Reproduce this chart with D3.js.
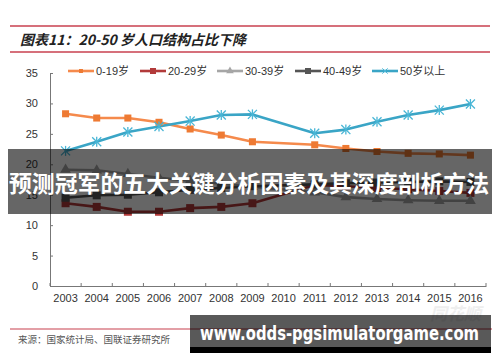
<!DOCTYPE html>
<html><head><meta charset="utf-8">
<script src="https://cdn.jsdelivr.net/npm/d3@7"></script>
<style>
html,body{margin:0;padding:0;background:#fff;}
svg{display:block;}
</style></head>
<body>
<svg id="c" width="500" height="362"></svg>
<script>
const years = ["2003","2004","2005","2006","2007","2008","2009","2010","2011","2012","2013","2014","2015","2016"];
const yTicks = [0,5,10,15,20,25,30,35];
const seriesNames = ["0-19岁","20-29岁","30-39岁","40-49岁","50岁以上"];
const s0_19  = [28.3,27.6,27.6,26.9,25.8,24.8,23.7,null,23.2,22.6,22.1,21.8,21.7,21.5];
const s20_29 = [13.6,13.0,12.2,12.2,12.8,13.0,13.6,null,16.6,16.4,16.1,15.9,15.6,15.3];
const s30_39 = [19.1,19.0,18.4,17.8,17.3,16.8,16.3,null,15.4,14.6,14.3,14.1,14.0,14.0];
const s40_49 = [14.5,14.9,15.0,15.4,15.8,16.1,16.4,null,16.7,16.9,17.0,17.1,17.2,17.1];
const s50p   = [22.2,23.7,25.3,26.2,27.1,28.1,28.2,null,25.1,25.7,27.0,28.1,28.9,29.9];
const title = "图表11：20-50 岁人口结构占比下降";
const source = "来源：国家统计局、国联证券研究所";
const bannerText = "预测冠军的五大关键分析因素及其深度剖析方法";
const urlText = "www.odds-pgsimulatorgame.com";

const colors = ["#F58A4C","#B23A3A","#A6A6A6","#555555","#3AA5C6"];
const markers = ["diamond","square","triangle","square","asterisk"];
const data = [s0_19,s20_29,s30_39,s40_49,s50p];

const svg = d3.select("#c");
const latin = "'Liberation Sans', Arial, 'Noto Sans CJK SC', sans-serif";
const cjk = "'Noto Sans CJK SC', sans-serif";

// header
svg.append("line").attr("x1",10).attr("x2",490).attr("y1",26).attr("y2",26).attr("stroke","#C8404F").attr("stroke-width",1.4);
svg.append("line").attr("x1",10).attr("x2",490).attr("y1",52).attr("y2",52).attr("stroke","#C8404F").attr("stroke-width",1.4);
svg.append("text").attr("x",20).attr("y",45).text(title)
  .attr("font-family",cjk).attr("font-weight","bold").attr("font-style","italic").attr("font-size",14).attr("fill","#222");

const x = d3.scaleBand().domain(years).range([50,486]).padding(0);
const y = d3.scaleLinear().domain([0,35]).range([286,73]);

// axes
const yAxis = d3.axisLeft(y).tickValues(yTicks).tickSizeInner(-3).tickSizeOuter(0).tickPadding(12);
const gy = svg.append("g").attr("transform","translate(50,0)").call(yAxis);
gy.select(".domain").attr("stroke","#777");
gy.selectAll(".tick line").attr("stroke","#777");
gy.selectAll("text").attr("font-family",latin).attr("font-size",11).attr("fill","#333");

const xAxis = d3.axisBottom(x).tickSize(0).tickPadding(8);
const gx = svg.append("g").attr("transform","translate(0,286)").call(xAxis);
gx.select(".domain").attr("stroke","#777");
gx.selectAll("text").attr("font-family",latin).attr("font-size",11).attr("fill","#333");
// tick marks at band boundaries
const bounds = years.map(d=>x(d)).concat([x(years[years.length-1])+x.bandwidth()]);
gx.selectAll(".bt").data(bounds).enter().append("line")
  .attr("x1",d=>d).attr("x2",d=>d).attr("y1",0).attr("y2",-3).attr("stroke","#777");

// lines
const cx = d => x(d.year)+x.bandwidth()/2;
data.forEach((arr,i)=>{
  const pts = years.map((yr,j)=>({year:yr,v:arr[j]})).filter(p=>p.v!==null);
  const line = d3.line().x(cx).y(p=>y(p.v));
  svg.append("path").datum(pts).attr("d",line).attr("fill","none")
    .attr("stroke",colors[i]).attr("stroke-width",2.6).attr("stroke-linejoin","round");
});
function drawMarker(g, type, col, px, py){
  if(type==="diamond"){
    g.append("path").attr("d",d3.symbol().type(d3.symbolDiamond2).size(70)()).attr("transform",`translate(${px},${py}) rotate(45) scale(0.95,0.95)`).attr("fill","#EE7A33");
  } else if(type==="square"){
    g.append("rect").attr("x",px-4).attr("y",py-4).attr("width",8).attr("height",8).attr("fill",col);
  } else if(type==="triangle"){
    g.append("path").attr("d",d3.symbol().type(d3.symbolTriangle).size(50)()).attr("transform",`translate(${px},${py})`).attr("fill",col);
  } else if(type==="asterisk"){
    g.append("path").attr("d",d3.symbol().type(d3.symbolTimes).size(55)()).attr("transform",`translate(${px},${py})`).attr("fill","none").attr("stroke","#49B6D6").attr("stroke-width",1.3);
    g.append("line").attr("x1",px).attr("x2",px).attr("y1",py-5).attr("y2",py+5).attr("stroke","#49B6D6").attr("stroke-width",1.3);
  }
}
data.forEach((arr,i)=>{
  const g = svg.append("g");
  years.forEach((yr,j)=>{ if(arr[j]!==null) drawMarker(g, markers[i], colors[i], cx({year:yr}), y(arr[j])); });
});

// legend
const legX = [68,140,217,295,372];
seriesNames.forEach((n,i)=>{
  const g = svg.append("g");
  g.append("line").attr("x1",legX[i]).attr("x2",legX[i]+26).attr("y1",71).attr("y2",71).attr("stroke",colors[i]).attr("stroke-width",2.6);
  const mk = markers[i];
  if(mk==="diamond") g.append("path").attr("d",d3.symbol().type(d3.symbolDiamond2).size(20)()).attr("transform",`translate(${legX[i]+13},71) rotate(45)`).attr("fill","#EE7A33");
  else if(mk==="square") g.append("rect").attr("x",legX[i]+10).attr("y",68).attr("width",6).attr("height",6).attr("fill",colors[i]);
  else if(mk==="triangle") g.append("path").attr("d",d3.symbol().type(d3.symbolTriangle).size(25)()).attr("transform",`translate(${legX[i]+13},71)`).attr("fill",colors[i]);
  else g.append("path").attr("d",d3.symbol().type(d3.symbolTimes).size(20)()).attr("transform",`translate(${legX[i]+13},71)`).attr("stroke","#49B6D6").attr("fill","none");
  g.append("text").attr("x",legX[i]+28).attr("y",75).text(n).attr("font-family",latin).attr("font-size",11).attr("fill","#333");
});

// watermark logo (faint)
svg.append("text").attr("x",430).attr("y",320).text("同花顺").attr("font-family",cjk).attr("font-weight","bold").attr("font-style","italic").attr("font-size",17).attr("fill","#eee");

// source
svg.append("line").attr("x1",10).attr("x2",492).attr("y1",329).attr("y2",329).attr("stroke","#C8404F").attr("stroke-width",1.2);
svg.append("text").attr("x",18).attr("y",343).text(source).attr("font-family",cjk).attr("font-size",9.5).attr("fill","#555");

// overlay banner
svg.append("rect").attr("x",8).attr("y",149).attr("width",484).attr("height",65).attr("fill","rgba(0,0,0,0.6)");
svg.append("text").attr("x",9).attr("y",192).text(bannerText)
  .attr("font-family",cjk).attr("font-weight","bold").attr("font-size",22.5).attr("fill","#fff")
  .attr("textLength",480).attr("lengthAdjust","spacingAndGlyphs");

// url box
svg.append("rect").attr("x",190).attr("y",315).attr("width",301).attr("height",38).attr("fill","rgba(0,0,0,0.65)");
svg.append("rect").attr("x",190).attr("y",347).attr("width",301).attr("height",6).attr("fill","#000");
svg.append("text").attr("x",200).attr("y",340).text(urlText)
  .attr("font-family","'DejaVu Sans', sans-serif").attr("font-weight","bold").attr("font-size",19).attr("fill","#fff")
  .attr("textLength",279).attr("lengthAdjust","spacingAndGlyphs");
</script>
</body></html>
